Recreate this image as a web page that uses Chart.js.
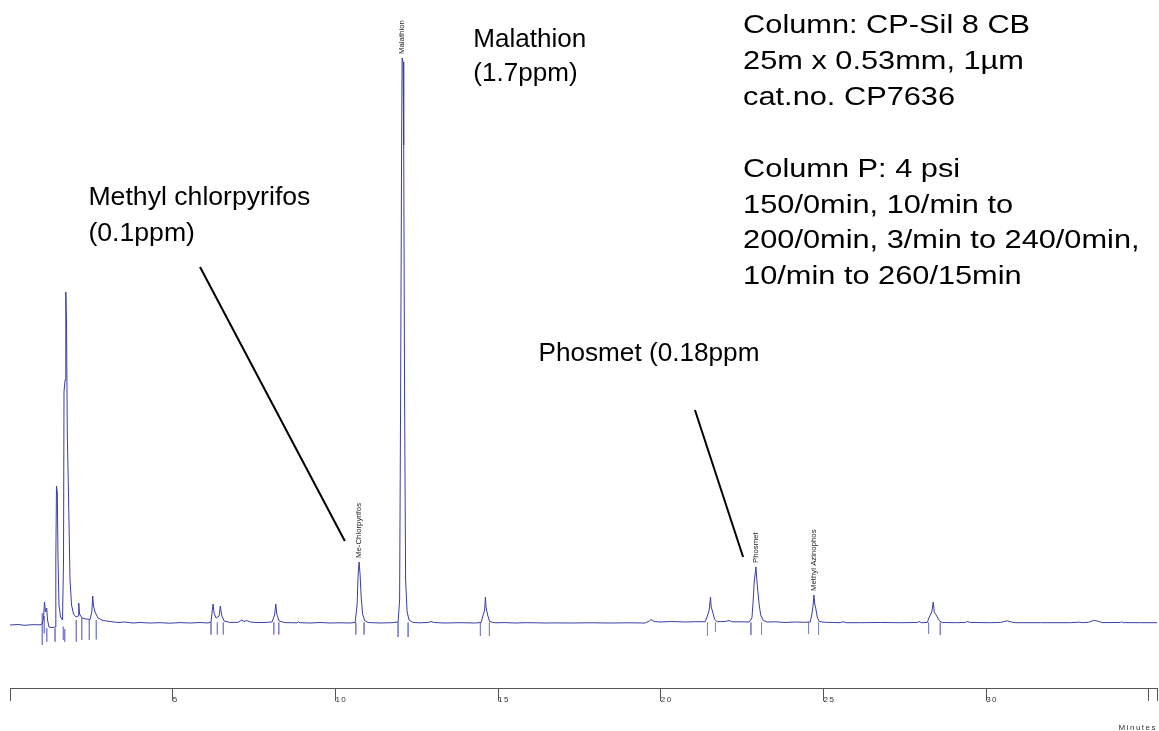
<!DOCTYPE html>
<html lang="en">
  <head>
    <meta charset="UTF-8" />
    <title>GC chromatogram - organophosphorus pesticides</title>
    <style>
      body {
        margin: 0;
        background: #ffffff;
      }
      canvas {
        display: block;
      }
    </style>
    <script src="https://cdn.jsdelivr.net/npm/chart.js"></script>
  </head>
  <body>
    <canvas id="gcChart" width="1159" height="731"></canvas>
    <script>
      // retention time (min) and detector signal (mV)
      const traceTime = [
        0.0, 0.246, 0.461, 0.676, 0.922, 0.984, 1.03, 1.061, 1.091, 1.128, 1.153, 1.199, 1.291, 1.383,
        1.408, 1.429, 1.454, 1.476, 1.506, 1.552, 1.614, 1.645, 1.66, 1.691, 1.715, 1.737, 1.761, 1.798,
        1.844, 1.891, 1.952, 2.029, 2.091, 2.112, 2.137, 2.213, 2.336, 2.459, 2.514, 2.542, 2.567, 2.613,
        2.705, 2.859, 3.074, 3.32, 3.535, 3.781, 3.996, 4.304, 4.611, 4.918, 5.226, 5.533, 5.841, 6.087,
        6.179, 6.21, 6.241, 6.272, 6.333, 6.425, 6.465, 6.502, 6.579, 6.764, 7.009, 7.123, 7.194, 7.277,
        7.378, 7.624, 7.87, 8.054, 8.131, 8.168, 8.199, 8.27, 8.454, 8.823, 8.863, 8.915, 9.222, 9.53,
        9.837, 10.145, 10.452, 10.606, 10.667, 10.698, 10.729, 10.76, 10.79, 10.836, 10.898, 11.005,
        11.374, 11.743, 11.927, 11.974, 12.004, 12.035, 12.05, 12.081, 12.099, 12.127, 12.158, 12.204,
        12.265, 12.388, 12.604, 12.85, 12.942, 13.034, 13.372, 13.834, 14.295, 14.479, 14.54, 14.587,
        14.611, 14.633, 14.679, 14.74, 14.909, 15.217, 15.524, 15.832, 16.139, 16.447, 16.754, 17.215,
        17.83, 18.445, 19.059, 19.52, 19.643, 19.705, 19.797, 19.982, 20.289, 20.504, 20.75, 21.058,
        21.365, 21.442, 21.488, 21.528, 21.55, 21.596, 21.657, 21.734, 21.98, 22.103, 22.195, 22.441,
        22.718, 22.801, 22.841, 22.871, 22.924, 22.948, 22.979, 23.025, 23.071, 23.148, 23.271, 23.517,
        23.824, 24.132, 24.439, 24.593, 24.639, 24.676, 24.707, 24.731, 24.762, 24.808, 24.869, 25.054,
        25.515, 25.607, 25.699, 26.13, 26.745, 27.359, 27.882, 27.943, 28.005, 28.189, 28.266, 28.328,
        28.374, 28.404, 28.481, 28.558, 28.65, 29.05, 29.357, 29.419, 29.511, 30.126, 30.433, 30.556,
        30.648, 30.771, 30.894, 31.663, 32.585, 32.862, 32.954, 33.139, 33.323, 33.446, 33.569, 34.122,
        34.153, 34.214, 34.737, 35.25,
      ];
      const traceSignal = [
        -0.2, -0.15, -0.23, -0.17, -0.18, -0.1, 0.5, 2.1, 1.1, 1.5, 0.3, -0.4, -0.45, -0.4,
        6.3, 13.7, 13.1, 6.3, 1.8, 0.6, 0.3, 6.3, 23.1, 24.3, 33.1, 30.0, 18.8, 12.8,
        4.3, 1.8, 0.9, 0.6, 0.7, 2.0, 0.9, 0.5, 0.4, 0.35, 1.1, 2.7, 1.7, 1.1,
        0.5, 0.25, 0.15, 0.05, 0.1, 0.0, 0.05, 0.0, 0.03, -0.02, 0.04, 0.0, 0.05, 0.0,
        0.1, 1.1, 1.9, 1.0, 0.5, 0.7, 1.7, 0.8, 0.2, 0.05, 0.07, 0.3, 0.15, 0.25,
        0.1, 0.04, 0.06, 0.1, 0.8, 1.9, 0.9, 0.2, 0.04, 0.02, 0.12, 0.03, 0.0, 0.05,
        0.0, 0.02, 0.0, 0.05, 1.8, 4.8, 6.1, 4.8, 2.7, 0.9, 0.25, 0.05,
        0.0, 0.03, 0.1, 2.3, 22.3, 47.8, 56.5, 56.1, 47.8, 22.3, 4.3, 1.1,
        0.3, 0.05, 0.02, 0.05, 0.15, 0.05, 0.0, 0.03, 0.0, 0.05, 0.8, 1.3,
        2.6, 1.5, 0.8, 0.15, 0.02, 0.04, 0.0, 0.03, 0.02, 0.0, 0.01, 0.0,
        0.02, 0.0, 0.02, 0.0, 0.2, 0.35, 0.15, 0.1, 0.15, 0.13, 0.1, 0.13,
        0.12, 0.8, 1.3, 2.6, 1.6, 1.1, 0.35, 0.13, 0.15, 0.25, 0.12, 0.12,
        0.1, 0.5, 2.3, 4.1, 5.6, 4.5, 3.3, 1.8, 0.8, 0.25, 0.1, 0.12,
        0.05, 0.1, 0.07, 0.1, 0.8, 1.6, 2.8, 1.9, 1.5, 0.6, 0.15, 0.07,
        0.03, 0.13, 0.03, 0.03, 0.05, 0.03, 0.05, 0.15, 0.03, 0.05, 0.7, 1.1,
        2.1, 1.1, 0.7, 0.25, 0.05, 0.03, 0.05, 0.15, 0.05, 0.03, 0.05, 0.15,
        0.22, 0.1, 0.03, 0.03, 0.03, 0.08, 0.03, 0.07, 0.27, 0.17, 0.04, 0.05,
        0.12, 0.04, 0.03, 0.03,
      ];

      // integration start / end marks
      const markerTime = [
        0.993, 1.054, 1.128, 1.383, 1.639, 1.681, 2.038, 2.204, 2.438, 2.653, 6.179, 6.373, 6.557,
        8.106, 8.26, 10.627, 10.882, 11.927, 12.235, 14.457, 14.734, 21.435, 21.681, 22.77, 23.096,
        24.541, 24.848, 28.23, 28.59,
      ];
      const markerTop = [
        0.97, 0.7, -0.53, -0.53, -0.37, -0.6, 0.3, 0.47, 0.3, 0.3, 0.05, 0.05, 0.05,
        0.05, 0.05, 0.05, 0.05, 0.05, 0.05, 0.05, 0.05, 0.05, 0.05, 0.05, 0.05,
        0.05, 0.05, 0.05, 0.05,
      ];
      const markerBottom = [
        -2.2, -1.03, -1.87, -1.87, -1.7, -1.87, -1.87, -1.7, -1.7, -1.63, -1.15, -1.15, -1.15,
        -1.15, -1.15, -1.15, -1.15, -1.4, -1.4, -1.3, -1.3, -1.3, -0.9, -1.2, -1.2,
        -1.1, -1.2, -1.1, -1.2,
      ];

      // peak names printed above the peaks
      const peakNames = ["Me-Chlorpyrifos", "Malathion", "Phosmet", "Methyl Azinophos"];
      const peakTimes = [10.729, 12.05, 22.924, 24.707];
      const peakHeights = [6.1, 56.5, 5.6, 2.8];

      const tickValues = [0, 5, 10, 15, 20, 25, 30, 35, 35.25];
      const tickLabels = ["", "5", "10", "15", "20", "25", "30", "", ""];

      // annotation blocks, placed in minutes / mV
      const notes = [
        {
          lines: ["Column: CP-Sil 8 CB", "25m x 0.53mm, 1\u00b5m", "cat.no. CP7636", "",
            "Column P: 4 psi", "150/0min, 10/min to", "200/0min, 3/min to 240/0min,", "10/min to 260/15min"],
          t: 22.53, v: 59.0, step: 3.59, size: 25, width: 287,
        },
        { lines: ["Malathion", "(1.7ppm)"], t: 14.24, v: 57.6, step: 3.4, size: 26, width: 113 },
        { lines: ["Methyl chlorpyrifos", "(0.1ppm)"], t: 2.41, v: 41.8, step: 3.6, size: 25.5, width: 222 },
        { lines: ["Phosmet (0.18ppm"], t: 16.24, v: 26.2, step: 0, size: 25, width: 221 },
      ];
      const pointers = [
        [5.84, 35.6, 10.29, 8.2],
        [21.05, 21.3, 22.53, 6.6],
      ];

      const markerData = [];
      markerTime.forEach((t, i) => {
        markerData.push({ x: t, y: markerTop[i] });
        markerData.push({ x: t, y: markerBottom[i] });
        markerData.push({ x: t, y: null });
      });

      const FONT = "'Liberation Sans', Arial, sans-serif";

      const spacingPlugin = {
        id: "axisSpacing",
        beforeDraw(chart) {
          chart.ctx.letterSpacing = "1.5px";
        },
        beforeDatasetsDraw(chart) {
          chart.ctx.letterSpacing = "0px";
        },
      };

      const notesPlugin = {
        id: "notes",
        afterDraw(chart) {
          const ctx = chart.ctx;
          const xs = chart.scales.x;
          const ys = chart.scales.y;
          ctx.save();
          ctx.letterSpacing = "0px";
          ctx.fillStyle = "#000000";
          ctx.textAlign = "left";
          ctx.textBaseline = "alphabetic";

          notes.forEach((n) => {
            ctx.font = n.size + "px " + FONT;
            const sx = n.width / ctx.measureText(n.lines[0]).width;
            n.lines.forEach((line, i) => {
              if (!line) return;
              ctx.save();
              ctx.translate(xs.getPixelForValue(n.t), ys.getPixelForValue(n.v - i * n.step));
              ctx.scale(sx, 1);
              ctx.fillText(line, 0, 0);
              ctx.restore();
            });
          });

          ctx.strokeStyle = "#000000";
          ctx.lineWidth = 2;
          pointers.forEach((p) => {
            ctx.beginPath();
            ctx.moveTo(xs.getPixelForValue(p[0]), ys.getPixelForValue(p[1]));
            ctx.lineTo(xs.getPixelForValue(p[2]), ys.getPixelForValue(p[3]));
            ctx.stroke();
          });

          ctx.font = "7.8px " + FONT;
          ctx.fillStyle = "#222222";
          ctx.textBaseline = "middle";
          peakNames.forEach((name, i) => {
            ctx.save();
            ctx.translate(xs.getPixelForValue(peakTimes[i]), ys.getPixelForValue(peakHeights[i]) - 4);
            ctx.rotate(-Math.PI / 2);
            ctx.fillText(name, 0, 0);
            ctx.restore();
          });
          ctx.restore();
        },
      };

      new Chart(document.getElementById("gcChart").getContext("2d"), {
        type: "line",
        data: {
          datasets: [
            {
              label: "Signal",
              data: traceTime.map((t, i) => ({ x: t, y: traceSignal[i] })),
              borderColor: "#3a3da6",
              borderWidth: 1,
              pointRadius: 0,
              tension: 0,
              fill: false,
            },
            {
              label: "Integration marks",
              data: markerData,
              borderColor: "#8285cc",
              borderWidth: 1,
              pointRadius: 0,
              spanGaps: false,
              fill: false,
            },
          ],
        },
        options: {
          responsive: false,
          animation: false,
          devicePixelRatio: 1,
          layout: { padding: { left: 10, right: 2, top: 0, bottom: 0 } },
          plugins: {
            legend: { display: false },
            tooltip: { enabled: false },
          },
          scales: {
            x: {
              type: "linear",
              min: 0,
              max: 35.25,
              afterBuildTicks: (axis) => {
                axis.ticks = tickValues.map((v) => ({ value: v }));
              },
              grid: {
                drawOnChartArea: false,
                drawTicks: true,
                tickLength: 13,
                tickColor: "#555555",
                color: "#555555",
              },
              border: { display: true, color: "#555555", width: 1 },
              ticks: {
                autoSkip: false,
                maxRotation: 0,
                align: "start",
                padding: -6,
                color: "#333333",
                font: { family: FONT, size: 8 },
                callback: (value, index) => tickLabels[index],
              },
              title: {
                display: true,
                text: "Minutes",
                align: "end",
                color: "#333333",
                font: { family: FONT, size: 8, lineHeight: 0.8 },
                padding: { top: 26, bottom: 0 },
              },
            },
            y: {
              display: false,
              min: -6.5,
              max: 62.3,
            },
          },
        },
        plugins: [spacingPlugin, notesPlugin],
      });
    </script>
  </body>
</html>
